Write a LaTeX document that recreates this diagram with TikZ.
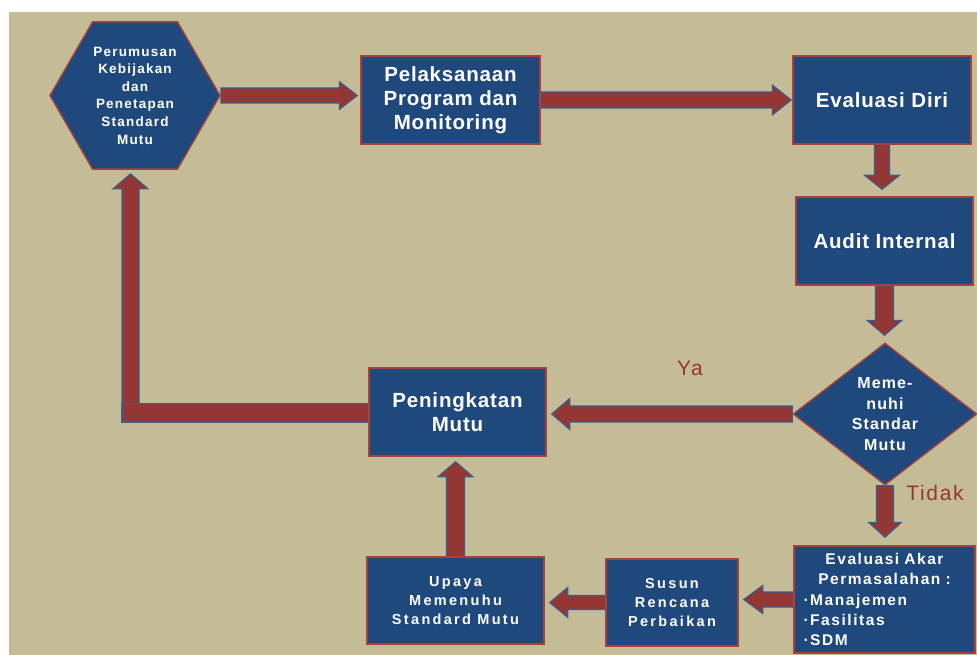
\documentclass[tikz,border=0pt]{standalone}
\usepackage{fontspec}
\setmainfont{Liberation Sans}
\usetikzlibrary{shapes.geometric,calc}
\definecolor{bgtan}{HTML}{C4BC96}
\definecolor{boxblue}{HTML}{1F497D}
\definecolor{arrred}{HTML}{943634}
\definecolor{arrblue}{HTML}{3A5F8E}
\definecolor{brdred}{HTML}{A8413C}
\definecolor{lblred}{HTML}{953735}
\pgfdeclarelayer{bg}
\pgfdeclarelayer{arr}
\pgfsetlayers{bg,arr,main}
\newcommand\bigtxt{\fontsize{20.5}{24}\selectfont\addfontfeature{LetterSpace=4}}
\newcommand\hextxt{\fontsize{13.5}{17.6}\selectfont\addfontfeature{LetterSpace=9}}
\newcommand\diatxt{\fontsize{16}{20.5}\selectfont\addfontfeature{LetterSpace=7}}
\newcommand\smalltxt{\fontsize{14.5}{19}\selectfont\addfontfeature{LetterSpace=16}}
\newcommand\eaktxt{\fontsize{15.5}{20.3}\selectfont\addfontfeature{LetterSpace=10}}
\newcommand\lbltxt{\fontsize{21}{24}\selectfont\addfontfeature{LetterSpace=8}}
% block arrow: start, tip, shaft half width, head half width, head length
\newcommand\barrow[5]{%
  \coordinate (ba) at ($(#2)!#5!(#1)$);
  \draw[blk] ($(#1)!#3!90:(#2)$) -- ($(ba)!#3!90:(#2)$) -- ($(ba)!#4!90:(#2)$)
    -- (#2) -- ($(ba)!#4!-90:(#2)$) -- ($(ba)!#3!-90:(#2)$) -- ($(#1)!#3!-90:(#2)$) -- cycle;}
\tikzset{
  box/.style={draw=brdred, line width=1.4pt, fill=boxblue, text=white, align=center, inner sep=0pt},
  blk/.style={fill=arrred, draw=arrblue, line width=1.1pt, line join=miter},
  lbl/.style={text=lblred, inner sep=0pt, font=\lbltxt},
}
\begin{document}
\begin{tikzpicture}[x=1pt,y=-1pt]
\useasboundingbox (0,0) rectangle (977,655);
\begin{pgfonlayer}{bg}
  \fill[white] (0,0) rectangle (977,655);
  \fill[bgtan] (9,12) rectangle (977,655);
\end{pgfonlayer}

% nodes
\node[box, regular polygon, regular polygon sides=6, minimum size=170pt, font=\bfseries\hextxt] (hex) at (135,95.5)
  {Perumusan\\Kebijakan\\dan\\Penetapan\\Standard\\Mutu};
\node[box, minimum width=179pt, minimum height=88pt, font=\bfseries\bigtxt] (pel) at (450.5,100)
  {Pelaksanaan\\Program dan\\Monitoring};
\node[box, minimum width=178pt, minimum height=88pt, font=\bfseries\bigtxt] (evd) at (882,100) {Evaluasi Diri};
\node[box, minimum width=177pt, minimum height=88pt, font=\bfseries\bigtxt] (aud) at (884.5,241) {Audit Internal};
\node[box, diamond, shape aspect=1.3, minimum width=184pt, minimum height=142pt, font=\bfseries\diatxt] (dia) at (885,414)
  {Meme-\\nuhi\\Standar\\Mutu};
\node[box, minimum width=177pt, minimum height=88pt, font=\bfseries\bigtxt] (pen) at (457.5,412) {Peningkatan\\Mutu};
\node[box, minimum width=181pt, minimum height=107pt, text width=170pt, align=left, font=\bfseries\eaktxt] (eak) at (884.5,599.5)
  {{\centering Evaluasi Akar\\Permasalahan :\par}\hspace*{4pt}·Manajemen\\\hspace*{4pt}·Fasilitas\\\hspace*{4pt}·SDM};
\node[box, minimum width=132pt, minimum height=87pt, font=\bfseries\smalltxt] (sus) at (672,602.5) {Susun\\Rencana\\Perbaikan};
\node[box, minimum width=177pt, minimum height=87pt, font=\bfseries\smalltxt] (upa) at (455.5,600.5) {Upaya\\Memenuhu\\Standard Mutu};

\node[lbl] (ya) at (690,368) {Ya};
\node[lbl] (tidak) at (935,493) {Tidak};

% connectors
\begin{pgfonlayer}{arr}
  \coordinate (a1t) at ($(pel.west|-hex.east)+(-3,0)$);
  \barrow{hex.east}{a1t}{7.5pt}{14pt}{18pt}
  \coordinate (a2t) at ($(evd.west)+(-1,0)$);
  \barrow{pel.east}{a2t}{8pt}{15pt}{19pt}
  \coordinate (a3t) at ($(evd.south|-aud.north)+(0,-7)$);
  \barrow{evd.south}{a3t}{7.5pt}{17.5pt}{14pt}
  \coordinate (a4t) at ($(aud.south|-dia.north)+(0,-7)$);
  \barrow{aud.south}{a4t}{9pt}{17.5pt}{15pt}
  \coordinate (a5t) at ($(dia.south|-eak.north)+(0,-8)$);
  \barrow{dia.south}{a5t}{8.5pt}{16.5pt}{15pt}
  \coordinate (a6t) at ($(pen.east|-dia.west)+(5,0)$);
  \barrow{dia.west}{a6t}{8pt}{15.5pt}{18pt}
  \coordinate (a7t) at ($(sus.east|-eak.west)+(5,0)$);
  \barrow{eak.west}{a7t}{7.5pt}{14pt}{19pt}
  \coordinate (a8t) at ($(upa.east|-sus.west)+(5,0)$);
  \barrow{sus.west}{a8t}{7pt}{15pt}{18pt}
  \coordinate (a9t) at ($(pen.south-|upa.north)+(0,5)$);
  \barrow{upa.north}{a9t}{9pt}{17.5pt}{15pt}
  \coordinate (elb) at (130.5,413);
  \coordinate (a10t) at ($(hex.south-|elb)+(0,4)$);
  \barrow{elb}{a10t}{8.5pt}{17.5pt}{15pt}
  \draw[blk] ($(pen.west)+(0,-8.5)$) rectangle ($(elb)+(-8.5,9)$);
\end{pgfonlayer}
\end{tikzpicture}
\end{document}
